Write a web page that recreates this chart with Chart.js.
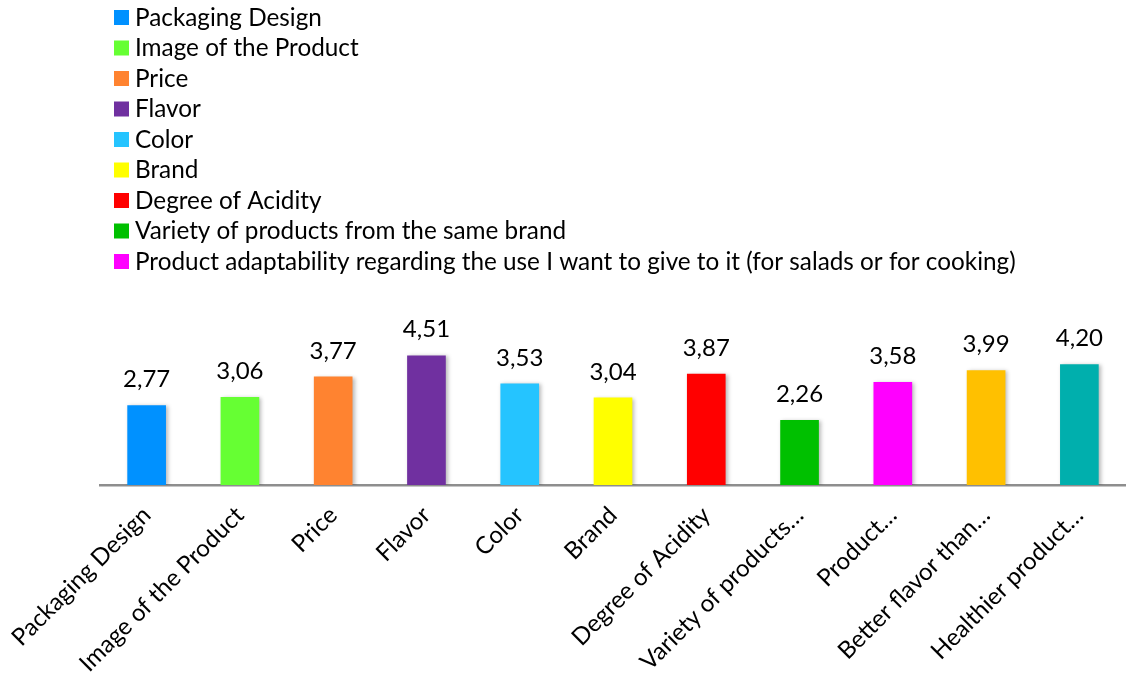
<!DOCTYPE html>
<html>
<head>
<meta charset="utf-8">
<title>Purchase factors</title>
<script src="https://cdn.jsdelivr.net/npm/chart.js@4/dist/chart.umd.min.js"></script>
<style>
  html, body { margin: 0; padding: 0; background: #ffffff; }
  #wrap { width: 1126px; height: 684px; position: relative; }
</style>
</head>
<body>
<div id="wrap"><canvas id="chart"></canvas></div>
<script>
// Short names shown under the bars
const categories = [
  'Packaging Design',
  'Image of the Product',
  'Price',
  'Flavor',
  'Color',
  'Brand',
  'Degree of Acidity',
  'Variety of products…',
  'Product…',
  'Better flavor than…',
  'Healthier product…'
];

// Entries listed in the legend block
const legendNames = [
  'Packaging Design',
  'Image of the Product',
  'Price',
  'Flavor',
  'Color',
  'Brand',
  'Degree of Acidity',
  'Variety of products from the same brand',
  'Product adaptability regarding the use I want to give to it (for salads or for cooking)'
];

const scores = [2.77, 3.06, 3.77, 4.51, 3.53, 3.04, 3.87, 2.26, 3.58, 3.99, 4.20];

const barColors = [
  '#0091FF', '#66FF33', '#FF8330', '#7030A0', '#25C4FF', '#FFFF00',
  '#FF0000', '#00C000', '#FF00FF', '#FFC000', '#00AFAD'
];

const FONT = 'Lato, "Noto Sans", sans-serif';

function formatScore(v) {
  return v.toFixed(2).replace('.', ',');
}

// Soft drop shadow behind the bars
const barShadow = {
  id: 'barShadow',
  beforeDatasetsDraw(chart) {
    const ctx = chart.ctx;
    ctx.save();
    ctx.shadowColor = 'rgba(0, 0, 0, 0.28)';
    ctx.shadowBlur = 4;
    ctx.shadowOffsetX = 2;
    ctx.shadowOffsetY = 1;
  },
  afterDatasetsDraw(chart) {
    chart.ctx.restore();
  }
};

// Value labels above each bar
const valueLabels = {
  id: 'valueLabels',
  afterDatasetsDraw(chart) {
    const ctx = chart.ctx;
    const meta = chart.getDatasetMeta(0);
    ctx.save();
    ctx.fillStyle = '#000000';
    ctx.font = '24px ' + FONT;
    ctx.textAlign = 'center';
    ctx.textBaseline = 'bottom';
    meta.data.forEach((bar, i) => {
      ctx.fillText(formatScore(scores[i]), bar.x, bar.y - 14);
    });
    ctx.restore();
  }
};

// Vertical legend list in the top-left corner
const legendList = {
  id: 'legendList',
  afterDraw(chart) {
    const ctx = chart.ctx;
    ctx.save();
    ctx.font = '24.3px ' + FONT;
    ctx.textAlign = 'left';
    ctx.textBaseline = 'middle';
    legendNames.forEach((name, i) => {
      const y = 18 + i * 30.5;
      ctx.fillStyle = barColors[i];
      ctx.fillRect(114, y - 8, 15, 15);
      ctx.fillStyle = '#000000';
      ctx.fillText(name, 135, y);
    });
    ctx.restore();
  }
};

new Chart(document.getElementById('chart'), {
  type: 'bar',
  data: {
    labels: categories,
    datasets: [{
      data: scores,
      backgroundColor: barColors,
      borderWidth: 0,
      barThickness: 38
    }]
  },
  plugins: [barShadow, valueLabels, legendList],
  options: {
    responsive: true,
    maintainAspectRatio: false,
    animation: false,
    layout: {
      padding: { top: 313, left: 100, right: 0, bottom: 0 }
    },
    plugins: {
      legend: { display: false },
      tooltip: { enabled: false }
    },
    scales: {
      x: {
        grid: { display: false, drawTicks: false },
        border: { display: true, color: '#8E8E8E', width: 2.5 },
        ticks: {
          color: '#000000',
          font: { family: FONT, size: 24 },
          minRotation: 45,
          maxRotation: 45,
          autoSkip: false,
          padding: 16
        },
        afterFit(scale) {
          // fixed label band; don't let rotated labels push the plot sideways
          scale.height = 199;
          scale.paddingLeft = 0;
          scale.paddingRight = 0;
        }
      },
      y: {
        display: false,
        min: 0,
        max: 6
      }
    }
  }
});
</script>
</body>
</html>
